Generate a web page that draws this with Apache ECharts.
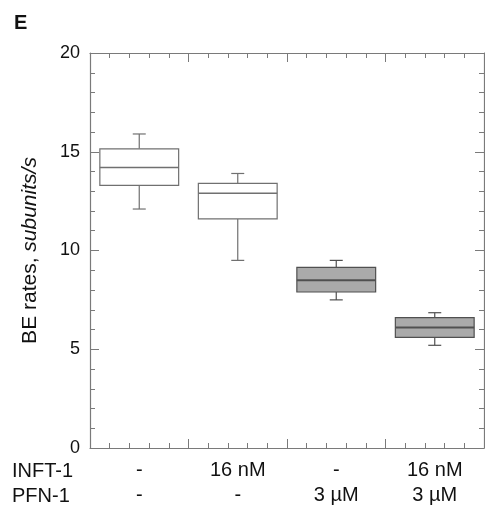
<!DOCTYPE html>
<html>
<head>
<meta charset="utf-8">
<script src="https://cdn.jsdelivr.net/npm/echarts@6/dist/echarts.min.js"></script>
<style>
  html, body { margin: 0; padding: 0; background: #fff; }
  #main { width: 485px; height: 514px; }
</style>
</head>
<body>
<div id="main"></div>
<script>
// 条件标签
var inftLabels = ["-", "16 nM", "-", "16 nM"];
var pfnLabels = ["-", "-", "3 µM", "3 µM"];

// 箱线图数值
var lowVals = [12.1, 9.5, 7.5, 5.2];
var q1Vals = [13.3, 11.6, 7.9, 5.6];
var medVals = [14.2, 12.9, 8.5, 6.1];
var q3Vals = [15.15, 13.4, 9.15, 6.6];
var highVals = [15.9, 13.9, 9.5, 6.85];

// y轴刻度
var yTicks = [0, 5, 10, 15, 20];

var boxFill = ["#ffffff", "#ffffff", "#aaaaaa", "#aaaaaa"];
var boxLine = ["#707070", "#707070", "#505050", "#505050"];

var chart = echarts.init(document.getElementById("main"), null, { renderer: "canvas" });

var font = "Liberation Sans, Arial, Helvetica, sans-serif";
var axisColor = "#7a7a7a";

var boxData = [];
for (var i = 0; i < inftLabels.length; i++) {
  boxData.push([i, lowVals[i], q1Vals[i], medVals[i], q3Vals[i], highVals[i]]);
}

// 自定义箱线图：短须线端
function renderBox(params, api) {
  var idx = api.value(0);
  var cx = api.coord([idx, 0])[0];
  var w = api.size([1, 0])[0] * 0.8;
  var yLow = api.coord([idx, api.value(1)])[1];
  var yQ1 = api.coord([idx, api.value(2)])[1];
  var yMed = api.coord([idx, api.value(3)])[1];
  var yQ3 = api.coord([idx, api.value(4)])[1];
  var yHigh = api.coord([idx, api.value(5)])[1];
  var cap = 6.5;
  var line = { stroke: boxLine[idx], lineWidth: 1.2 };
  return {
    type: "group",
    children: [
      { type: "line", shape: { x1: cx, y1: yQ3, x2: cx, y2: yHigh }, style: line },
      { type: "line", shape: { x1: cx - cap, y1: yHigh, x2: cx + cap, y2: yHigh }, style: line },
      { type: "line", shape: { x1: cx, y1: yQ1, x2: cx, y2: yLow }, style: line },
      { type: "line", shape: { x1: cx - cap, y1: yLow, x2: cx + cap, y2: yLow }, style: line },
      {
        type: "rect",
        shape: { x: cx - w / 2, y: yQ3, width: w, height: yQ1 - yQ3 },
        style: { fill: boxFill[idx], stroke: boxLine[idx], lineWidth: 1.2 },
      },
      {
        type: "line",
        shape: { x1: cx - w / 2, y1: yMed, x2: cx + w / 2, y2: yMed },
        style: { stroke: boxLine[idx], lineWidth: idx >= 2 ? 2 : 1.4 },
      },
    ],
  };
}

function frameAxis(extra) {
  return Object.assign(
    {
      axisLine: { show: true, onZero: false, lineStyle: { color: axisColor, width: 1.2 } },
      axisTick: { show: true, inside: true, length: 9, lineStyle: { color: axisColor } },
      minorTick: { show: true, splitNumber: 5, length: 5, lineStyle: { color: axisColor } },
      splitLine: { show: false },
      minorSplitLine: { show: false },
    },
    extra
  );
}

var option = {
  animation: false,
  backgroundColor: "#ffffff",
  textStyle: { fontFamily: font },
  grid: { left: 90, right: 1, top: 53, bottom: 66, containLabel: false },
  graphic: [
    { type: "text", x: 14, y: 23, style: { text: "E", fontSize: 20, fontWeight: "bold", fontFamily: font, fill: "#111", verticalAlign: "middle" } },
    { type: "text", x: 12, y: 471, style: { text: "INFT-1", fontSize: 20, fontFamily: font, fill: "#111", verticalAlign: "middle" } },
    { type: "text", x: 12, y: 496, style: { text: "PFN-1", fontSize: 20, fontFamily: font, fill: "#111", verticalAlign: "middle" } },
  ],
  xAxis: [
    {
      type: "category",
      data: inftLabels,
      boundaryGap: true,
      axisLine: { show: false, onZero: false },
      axisTick: { show: false },
      axisLabel: {
        margin: 10,
        fontSize: 20,
        lineHeight: 25,
        color: "#111",
        fontFamily: font,
        formatter: function (value, index) {
          return inftLabels[index] + "\n" + pfnLabels[index];
        },
      },
    },
    frameAxis({ type: "value", min: 0, max: 4, interval: 1, position: "bottom", axisLabel: { show: false } }),
    frameAxis({ type: "value", min: 0, max: 4, interval: 1, position: "top", axisLabel: { show: false } }),
  ],
  yAxis: [
    frameAxis({
      type: "value",
      min: yTicks[0],
      max: yTicks[yTicks.length - 1],
      interval: 5,
      position: "left",
      name: "{n|BE rates, }{i|subunits/s}",
      nameLocation: "middle",
      nameRotate: 90,
      nameGap: 49,
      nameTextStyle: {
        rich: {
          n: { fontSize: 21, fontFamily: font, color: "#111" },
          i: { fontSize: 21, fontFamily: font, fontStyle: "italic", color: "#111" },
        },
      },
      axisLabel: { fontSize: 18, color: "#111", margin: 10, fontFamily: font },
    }),
    frameAxis({ type: "value", min: 0, max: 20, interval: 5, position: "right", axisLabel: { show: false } }),
  ],
  series: [
    {
      type: "custom",
      xAxisIndex: 0,
      yAxisIndex: 0,
      renderItem: renderBox,
      encode: { x: 0, y: [1, 2, 3, 4, 5] },
      data: boxData,
    },
  ],
};

chart.setOption(option);
</script>
</body>
</html>
